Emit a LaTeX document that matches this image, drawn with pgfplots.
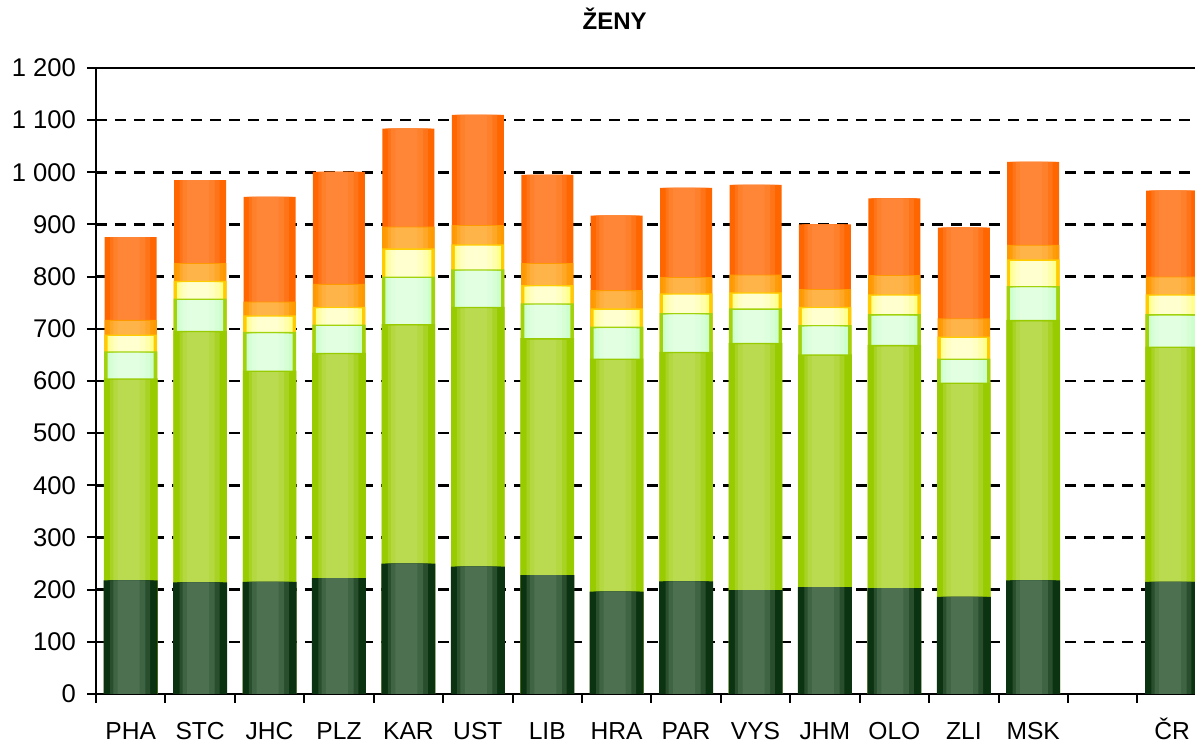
\documentclass[border=0pt]{standalone}
\usepackage{fontspec}
\setmainfont{Liberation Sans}
\usepackage{pgfplots}
\usepackage{pgfplotstable}
\pgfplotsset{compat=1.18}
\usetikzlibrary{calc}

% edge / middle colours of the shaded segments
\definecolor{dkEdge}{HTML}{0C3311}
\definecolor{dkMid}{HTML}{4C7050}
\definecolor{gEdge}{HTML}{99CC00}
\definecolor{gMid}{HTML}{BADB50}
\definecolor{pgLine}{HTML}{A2D20A}
\definecolor{pgEdge}{HTML}{CCFFCC}
\definecolor{pgMid}{HTML}{E2FFE2}
\definecolor{yLine}{HTML}{FFCC00}
\definecolor{yEdge}{HTML}{FFFF8C}
\definecolor{yMid}{HTML}{FFFFD0}
\definecolor{loLine}{HTML}{FF9900}
\definecolor{loEdge}{HTML}{FF9C0A}
\definecolor{loMid}{HTML}{FFB44A}
\definecolor{oEdge}{HTML}{FF6600}
\definecolor{oMid}{HTML}{FF8636}

% segments from bottom to top; position 14 is the empty gap
\pgfplotstableread{
x   d   g   pg  y   lo  o
0   218 387 54  30  28  159
1   214 482 64  32  34  159
2   215 405 76  30  26  201
3   222 432 56  32  44  215
4   250 459 93  52  42  188
5   244 498 74  46  37  211
6   228 454 69  33  42  169
7   196 447 63  33  35  143
8   216 440 76  36  31  171
9   199 474 68  29  34  172
10  205 446 58  33  34  124
11  203 466 61  36  37  147
12  186 411 48  40  35  174
13  218 499 67  49  28  159
15  215 451 64  36  34  165
}\zeny

% cumulative tops of the segments
\def\cA{\thisrow{d}}
\def\cB{\thisrow{d}+\thisrow{g}}
\def\cC{\thisrow{d}+\thisrow{g}+\thisrow{pg}}
\def\cD{\thisrow{d}+\thisrow{g}+\thisrow{pg}+\thisrow{y}}
\def\cE{\thisrow{d}+\thisrow{g}+\thisrow{pg}+\thisrow{y}+\thisrow{lo}}
\def\cF{\thisrow{d}+\thisrow{g}+\thisrow{pg}+\thisrow{y}+\thisrow{lo}+\thisrow{o}}

% one layer: #1 top, #2 bar width, #3 fill, #4 shift
\newcommand{\layer}[4]{%
  \addplot[fill=#3, draw=none, bar width=#2, bar shift=#4] table[x=x, y expr={#1}] {\zeny};}
% a shaded segment: top, outer fill, edge colour, middle colour, drop of inner layers, outer width
\newcommand{\segment}[6]{%
  \layer{#1}{#6}{#2}{0pt}
  \layer{#1-#5}{23pt}{#3}{0pt}
  \layer{#1-#5}{20pt}{#4!45!#3}{-0.3pt}
  \layer{#1-#5}{16pt}{#4!80!#3}{-0.7pt}
  \layer{#1-#5}{11pt}{#4}{-1pt}}

\begin{document}
\begin{tikzpicture}
\begin{axis}[
    name=ax,
    scale only axis,
    width=549.5pt, height=313pt,
    xmin=-0.5, xmax=15.33,
    ymin=0, ymax=1200,
    ybar,
    axis lines=left,
    axis line style={-, black, line width=1pt},
    ytick={0,100,...,1200},
    yticklabels={0,100,200,300,400,500,600,700,800,900,1 000,1 100,1 200},
    ymajorgrids,
    major grid style={black, line width=1.3pt, dash pattern=on 5.5pt off 4pt},
    extra y ticks={1200},
    extra y tick labels={},
    extra y tick style={major grid style={solid, black, line width=1pt}},
    xtick={-0.5,0.5,...,14.5},
    xticklabels={},
    extra x ticks={0,1,...,13,15},
    extra x tick labels={PHA,STC,JHC,PLZ,KAR,UST,LIB,HRA,PAR,VYS,JHM,OLO,ZLI,MSK,ČR},
    extra x tick style={major tick length=0pt},
    tick align=outside,
    major tick length=4.5pt,
    tick style={black, line width=1pt},
    xticklabel style={font=\fontsize{12.3}{14}\selectfont, inner sep=0.5pt,
        text height=9pt, text depth=0pt, yshift=-13pt},
    yticklabel style={font=\fontsize{12.8}{14}\selectfont, xshift=-2pt},
    title={ŽENY},
    title style={font=\bfseries\fontsize{12}{14}\selectfont, at={(0.472,1)}, anchor=base, yshift=13pt},
]
% drawn from the top segment down, each layer hiding what lies below it
\segment{\cF}{oEdge}{oEdge}{oMid}{0}{26pt}
\segment{\cE}{loLine}{loEdge}{loMid}{2}{26.2pt}
\segment{\cD}{yLine}{yEdge}{yMid}{3}{26.4pt}
\segment{\cC-2}{pgLine}{pgEdge}{pgMid}{3}{26.6pt}
\segment{\cB}{gEdge}{gEdge}{gMid}{3}{26.8pt}
\segment{\cA}{dkEdge}{dkEdge}{dkMid}{0}{27pt}
\end{axis}
\pgfresetboundingbox
\path[use as bounding box] ($(ax.south west)+(-48pt,-24.5pt)$) rectangle ($(ax.north east)+(0pt,34pt)$);
\end{tikzpicture}
\end{document}
